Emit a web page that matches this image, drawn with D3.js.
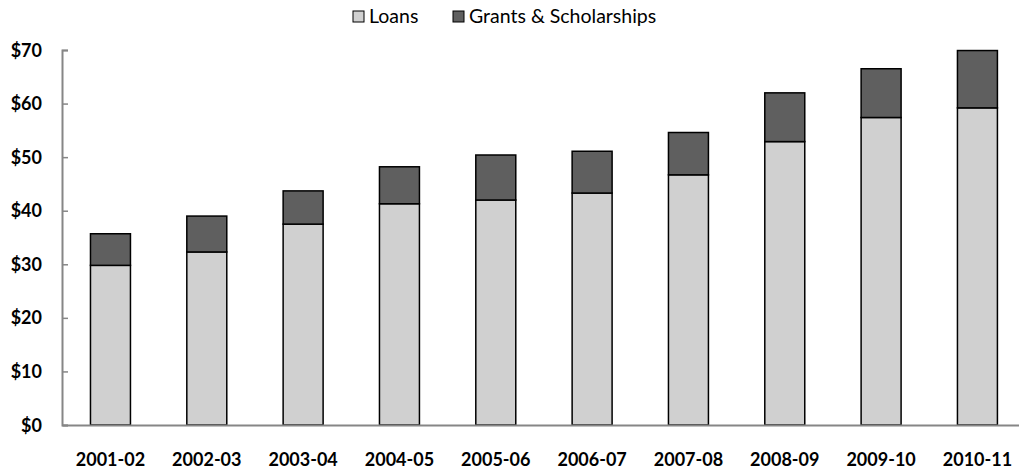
<!DOCTYPE html>
<html><head><meta charset="utf-8">
<script src="https://cdn.jsdelivr.net/npm/d3@7"></script>
<style>body{margin:0;background:#fff}svg{display:block}</style>
</head><body>
<svg id="c" width="1019" height="471"></svg>
<script>
const categories = ["2001-02","2002-03","2003-04","2004-05","2005-06","2006-07","2007-08","2008-09","2009-10","2010-11"];
const loans  = [29.8, 32.3, 37.5, 41.3, 42.0, 43.3, 46.7, 52.9, 57.4, 59.2];
const grants = [5.9, 6.7, 6.2, 6.9, 8.4, 7.8, 7.9, 9.1, 9.1, 10.7];
const seriesNames = ["Loans", "Grants & Scholarships"];
const yTicks = [0,10,20,30,40,50,60,70];

const colors = ["#d0d0d0", "#5f5f5f"];
const svg = d3.select("#c");
const font = "Lato, 'Open Sans', sans-serif";

const x = d3.scaleBand().domain(categories).range([62.3, 1025.6]).paddingInner(0.585).paddingOuter(0.2925);
const y = d3.scaleLinear().domain([0,70]).range([425, 50]);

const data = categories.map((c,i)=>({cat:c, Loans:loans[i], "Grants & Scholarships":grants[i]}));
const stack = d3.stack().keys(seriesNames)(data);

// axes
const yAxis = svg.append("g").attr("transform","translate(62,0)")
  .call(d3.axisRight(y).tickValues(yTicks).tickSize(6).tickFormat(""));
yAxis.select(".domain").attr("stroke","#868686").attr("stroke-width",2);
yAxis.selectAll(".tick line").attr("stroke","#868686").attr("stroke-width",1.5);

svg.append("g").selectAll("text").data(yTicks).join("text")
  .attr("x",42).attr("y",d=>y(d)+6.5).attr("text-anchor","end")
  .attr("font-family",font).attr("font-weight","bold").attr("font-size",18).attr("fill","#000")
  .text(d=>"$"+d);

const layers = svg.append("g").selectAll("g").data(stack).join("g").attr("fill",(d,i)=>colors[i]);
layers.selectAll("rect").data(d=>d).join("rect")
  .attr("x",d=>x(d.data.cat)).attr("width",x.bandwidth())
  .attr("y",d=>y(d[1])).attr("height",d=>y(d[0])-y(d[1]))
  .attr("stroke","#000").attr("stroke-width",1.5);

const xAxis = svg.append("g").attr("transform","translate(0,425)")
  .call(d3.axisBottom(x).tickSize(0).tickPadding(0));
xAxis.select(".domain").attr("stroke","#868686").attr("stroke-width",2);
xAxis.selectAll("text").attr("y",41).attr("dy","0").attr("font-family",font)
  .attr("font-weight","bold").attr("font-size",18).attr("fill","#000");

// legend
const legX = [353, 453];
const leg = svg.append("g").selectAll("g").data(seriesNames).join("g")
  .attr("transform",(d,i)=>`translate(${legX[i]},11)`);
leg.append("rect").attr("width",11).attr("height",11)
  .attr("fill",(d,i)=>colors[i]).attr("stroke","#000").attr("stroke-width",1);
leg.append("text").attr("x",16).attr("y",11.5)
  .attr("font-family",font).attr("font-size",19.5).attr("fill","#000").text(d=>d);
</script>
</body></html>
